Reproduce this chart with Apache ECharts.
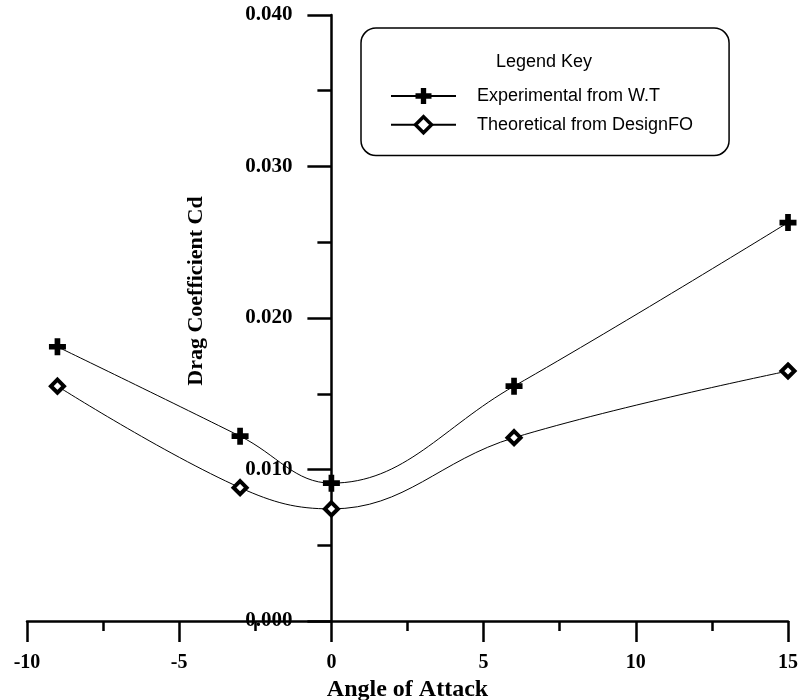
<!DOCTYPE html>
<html>
<head>
<meta charset="utf-8">
<title>Drag Coefficient vs Angle of Attack</title>
<script src="https://cdn.jsdelivr.net/npm/echarts@6/dist/echarts.min.js"></script>
<style>
  html, body { margin: 0; padding: 0; background: #fff; }
  #chart { width: 800px; height: 700px; }
</style>
</head>
<body>
<div id="chart"></div>
<script>
// values
const angles = [-9, -3, 0, 6, 15];
const experimental = [0.0181, 0.0122, 0.0091, 0.0155, 0.0263];
const theoretical = [0.0155, 0.0088, 0.0074, 0.0121, 0.0165];
const seriesNames = ['Experimental from W.T', 'Theoretical from DesignFO'];

const serif = "'Liberation Serif', 'Times New Roman', serif";
const sans = "'Liberation Sans', Arial, sans-serif";

// bold plus marker
const crossSymbol = 'path://M3,0H6V3H9V6H6V9H3V6H0V3H3Z';
const diamondStyle = { color: '#fff', borderColor: '#000', borderWidth: 4 };

const toPairs = (vals) => angles.map((a, i) => [a, vals[i]]);

const gridLeft = 27;
const gridRight = 12;
const xMin = -10, xMax = 15;
// y axis sits on x = 0, shift it in from the grid's left edge
const yAxisShift = (800 - gridLeft - gridRight) * (0 - xMin) / (xMax - xMin);

const axisLine = { lineStyle: { color: '#000', width: 2.5 } };

const chart = echarts.init(document.getElementById('chart'));
chart.setOption({
  animation: false,
  backgroundColor: '#fff',
  title: {
    text: 'Legend Key',
    left: 496,
    top: 53,
    padding: 0,
    textStyle: { fontFamily: sans, fontSize: 18, fontWeight: 'normal', color: '#000' }
  },
  legend: {
    orient: 'vertical',
    left: 361,
    top: 28,
    padding: [59, 36, 21, 29],
    itemWidth: 65,
    itemHeight: 20,
    itemGap: 10,
    borderColor: '#000',
    borderWidth: 1.5,
    borderRadius: 15,
    selectedMode: false,
    data: [
      { name: seriesNames[0] },
      { name: seriesNames[1], itemStyle: { color: '#fff', borderColor: '#000', borderWidth: 3.5 } }
    ],
    textStyle: { fontFamily: sans, fontSize: 18, color: '#000', padding: [0, 0, 0, 16] }
  },
  grid: { left: gridLeft, right: gridRight, top: 15, bottom: 79, containLabel: false, outerBoundsMode: 'none' },
  xAxis: {
    type: 'value',
    min: xMin,
    max: xMax,
    interval: 5,
    name: 'Angle of Attack',
    nameLocation: 'middle',
    nameGap: 56,
    nameTextStyle: { fontFamily: serif, fontSize: 24, fontWeight: 'bold', color: '#000' },
    axisLine: axisLine,
    axisTick: { show: true, length: 21, lineStyle: { color: '#000', width: 2.5 } },
    minorTick: { show: true, splitNumber: 2, length: 10, lineStyle: { color: '#000', width: 2.5 } },
    splitLine: { show: false },
    axisLabel: { margin: 32, fontFamily: serif, fontSize: 20, fontWeight: 'bold', color: '#000' }
  },
  yAxis: {
    type: 'value',
    min: 0,
    max: 0.04,
    interval: 0.01,
    offset: -yAxisShift,
    axisLine: Object.assign({ onZero: false }, axisLine),
    axisTick: { show: true, length: 24, lineStyle: { color: '#000', width: 2.5 } },
    minorTick: { show: true, splitNumber: 2, length: 14, lineStyle: { color: '#000', width: 2.5 } },
    splitLine: { show: false },
    axisLabel: {
      show: true,
      margin: 39,
      hideOverlap: false,
      fontFamily: serif,
      fontSize: 21,
      fontWeight: 'bold',
      color: '#000',
      formatter: (v) => v.toFixed(3)
    }
  },
  graphic: [{
    type: 'text',
    x: 196,
    y: 291,
    rotation: Math.PI / 2,
    style: {
      text: 'Drag Coefficient Cd',
      fontFamily: serif,
      fontSize: 22,
      fontWeight: 'bold',
      fill: '#000',
      align: 'center',
      verticalAlign: 'middle'
    }
  }],
  series: [
    {
      name: seriesNames[0],
      type: 'line',
      smooth: 0.4,
      data: toPairs(experimental),
      symbol: crossSymbol,
      symbolSize: 17,
      lineStyle: { color: '#000', width: 1 },
      itemStyle: { color: '#000' },
      z: 3
    },
    {
      name: seriesNames[1],
      type: 'line',
      smooth: 0.4,
      data: toPairs(theoretical),
      symbol: 'diamond',
      symbolSize: 13,
      lineStyle: { color: '#000', width: 1 },
      itemStyle: diamondStyle,
      z: 3
    }
  ]
});
</script>
</body>
</html>
